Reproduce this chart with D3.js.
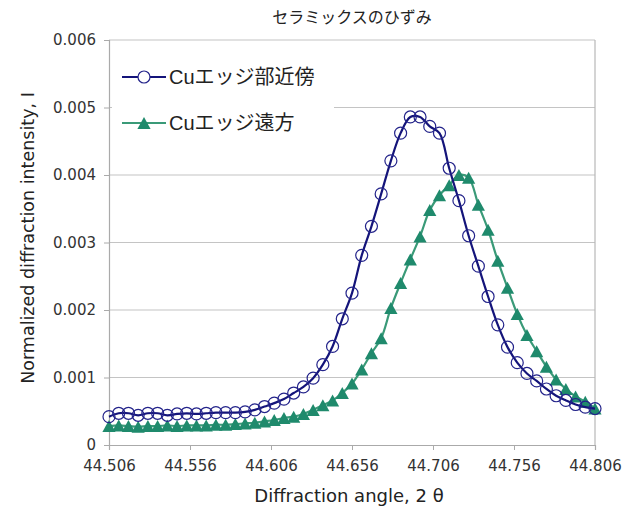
<!DOCTYPE html>
<html>
<head>
<meta charset="utf-8">
<script src="https://cdn.jsdelivr.net/npm/d3@7"></script>
<style>
  body { margin: 0; background: #fff; }
  svg { font-family: "DejaVu Sans", "Noto Sans CJK JP", sans-serif; }
</style>
</head>
<body>
<div id="chart"></div>
<script>
// 2θ sample points: 44.506 .. 44.806, step 0.006
const angles = d3.range(51).map(i => +(44.506 + i * 0.006).toFixed(3));
const xTicks = [44.506, 44.556, 44.606, 44.656, 44.706, 44.756, 44.806];
const yTicks = [0, 0.001, 0.002, 0.003, 0.004, 0.005, 0.006];
const seriesNames = ["Cuエッジ部近傍", "Cuエッジ遠方"];

// values in units of 1e-3
const nearEdge = [0.42, 0.47, 0.47, 0.44, 0.47, 0.47, 0.44, 0.46, 0.47, 0.46,
  0.47, 0.48, 0.48, 0.48, 0.49, 0.52, 0.57, 0.62, 0.68, 0.77,
  0.86, 0.99, 1.19, 1.46, 1.87, 2.25, 2.81, 3.24, 3.72, 4.21,
  4.62, 4.86, 4.86, 4.72, 4.62, 4.10, 3.62, 3.10, 2.65, 2.20,
  1.78, 1.45, 1.22, 1.06, 0.95, 0.83, 0.73, 0.66, 0.60, 0.56, 0.54];
const farEdge = [0.28, 0.29, 0.28, 0.27, 0.28, 0.28, 0.29, 0.28, 0.29, 0.29,
  0.29, 0.30, 0.30, 0.31, 0.32, 0.33, 0.35, 0.37, 0.40, 0.42,
  0.46, 0.52, 0.59, 0.66, 0.77, 0.91, 1.12, 1.36, 1.58, 2.03,
  2.40, 2.75, 3.09, 3.48, 3.70, 3.85, 4.00, 3.96, 3.56, 3.19,
  2.73, 2.33, 1.94, 1.63, 1.39, 1.16, 0.97, 0.83, 0.72, 0.64, 0.54];

const width = 622, height = 515;
const margin = { top: 40, right: 27, bottom: 70, left: 109 };

const svg = d3.select("#chart").append("svg")
  .attr("width", width)
  .attr("height", height);

const x = d3.scaleLinear()
  .domain([44.506, 44.806])
  .range([margin.left, width - margin.right]);

const y = d3.scaleLinear()
  .domain([0, 0.006])
  .range([height - margin.bottom, margin.top]);

// title
svg.append("text")
  .attr("x", 352).attr("y", 23)
  .attr("text-anchor", "middle")
  .attr("font-family", "Noto Sans CJK JP")
  .attr("font-size", 16)
  .attr("fill", "#222")
  .text("セラミックスのひずみ");

// gridlines
svg.append("g")
  .selectAll("line")
  .data(yTicks.slice(1))
  .enter().append("line")
    .attr("x1", x.range()[0]).attr("x2", x.range()[1])
    .attr("y1", d => y(d)).attr("y2", d => y(d))
    .attr("stroke", "#c4c4c4")
    .attr("stroke-width", 1.2);

// right border
svg.append("line")
  .attr("x1", x.range()[1]).attr("x2", x.range()[1])
  .attr("y1", y(0.006)).attr("y2", y(0))
  .attr("stroke", "#b8b8b8")
  .attr("stroke-width", 1.2);

// y axis
const yAxis = svg.append("g")
  .attr("transform", `translate(${margin.left},0)`)
  .call(d3.axisLeft(y).tickValues(yTicks).tickSize(5).tickPadding(8)
    .tickFormat(d => d === 0 ? "0" : d3.format(".3f")(d)));
yAxis.attr("font-family", "DejaVu Sans").attr("font-size", 15);
yAxis.select(".domain").attr("stroke", "#aaa").attr("stroke-width", 1.2);
yAxis.selectAll(".tick line").attr("stroke", "#aaa");
yAxis.selectAll("text").attr("fill", "#333");

// x axis
const xAxis = svg.append("g")
  .attr("transform", `translate(0,${y(0)})`)
  .call(d3.axisBottom(x).tickValues(xTicks).tickSize(5).tickPadding(10)
    .tickFormat(d3.format(".3f")));
xAxis.attr("font-family", "DejaVu Sans").attr("font-size", 15);
xAxis.select(".domain").attr("stroke", "#aaa").attr("stroke-width", 1.2);
xAxis.selectAll(".tick line").attr("stroke", "#aaa");
xAxis.selectAll("text").attr("fill", "#333");

// axis titles
svg.append("text")
  .attr("x", 349).attr("y", 502)
  .attr("text-anchor", "middle")
  .attr("font-size", 18)
  .attr("fill", "#222")
  .text("Diffraction angle, 2 θ");

svg.append("text")
  .attr("transform", "translate(28,238) rotate(-90)")
  .attr("text-anchor", "middle")
  .attr("dy", "0.35em")
  .attr("font-size", 17.5)
  .attr("fill", "#222")
  .text("Normalized diffraction intensity, I");

const line = d3.line()
  .x(d => x(d[0]))
  .y(d => y(d[1]))
  .curve(d3.curveCatmullRom.alpha(0.5));

const nearData = angles.map((a, i) => [a, nearEdge[i] / 1000]);
const farData = angles.map((a, i) => [a, farEdge[i] / 1000]);

const triangle = s => `M0,${-s * 0.5}L${s * 0.55},${s * 0.5}L${-s * 0.55},${s * 0.5}Z`;

// far series (triangles)
svg.append("path")
  .datum(farData)
  .attr("fill", "none")
  .attr("stroke", "#3a9a78")
  .attr("stroke-width", 2.2)
  .attr("d", line);
svg.append("g")
  .selectAll("path")
  .data(farData)
  .enter().append("path")
    .attr("transform", d => `translate(${x(d[0])},${y(d[1])})`)
    .attr("d", triangle(12))
    .attr("fill", "#1f8a6c");

// near series (circles)
svg.append("path")
  .datum(nearData)
  .attr("fill", "none")
  .attr("stroke", "#14147a")
  .attr("stroke-width", 2.2)
  .attr("d", line);
svg.append("g")
  .selectAll("circle")
  .data(nearData)
  .enter().append("circle")
    .attr("cx", d => x(d[0]))
    .attr("cy", d => y(d[1]))
    .attr("r", 6)
    .attr("fill", "none")
    .attr("stroke", "#23238a")
    .attr("stroke-width", 1.2);

// legend
const legend = svg.append("g");
legend.append("rect")
  .attr("x", 112).attr("y", 58)
  .attr("width", 222).attr("height", 86)
  .attr("fill", "#fff");

const legendRows = legend.selectAll("g")
  .data(seriesNames)
  .enter().append("g")
    .attr("transform", (d, i) => `translate(122,${77 + i * 46})`);

legendRows.append("line")
  .attr("x1", 0).attr("x2", 44)
  .attr("stroke", (d, i) => i === 0 ? "#14147a" : "#3a9a78")
  .attr("stroke-width", 2.2);

legendRows.filter((d, i) => i === 0).append("circle")
  .attr("cx", 22).attr("r", 6)
  .attr("fill", "#fff")
  .attr("stroke", "#23238a")
  .attr("stroke-width", 1.2);

legendRows.filter((d, i) => i === 1).append("path")
  .attr("transform", "translate(22,0)")
  .attr("d", triangle(12))
  .attr("fill", "#1f8a6c");

legendRows.append("text")
  .attr("x", 47)
  .attr("dy", "0.36em")
  .attr("font-family", "Liberation Sans, Noto Sans CJK JP")
  .attr("font-size", 20)
  .attr("fill", "#222")
  .text(d => d);
</script>
</body>
</html>
